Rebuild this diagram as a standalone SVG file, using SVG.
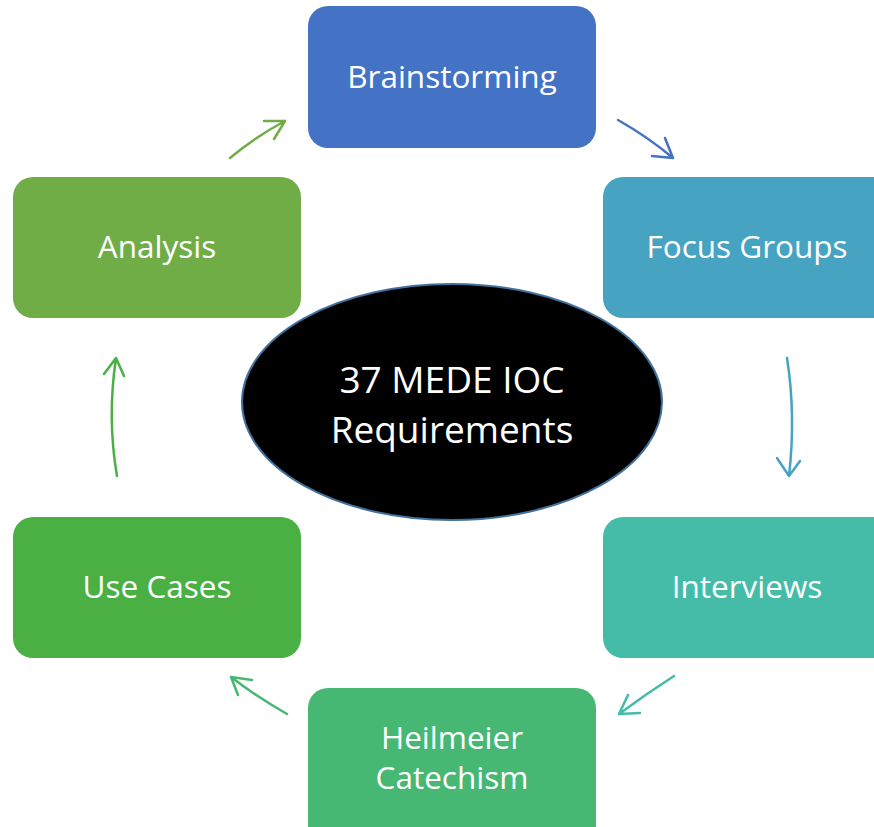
<svg xmlns="http://www.w3.org/2000/svg" width="874" height="827" viewBox="0 0 874 827">
  <style>
    .box text { fill: #ffffff; font-family: "Open Sans", Lato, sans-serif; font-size: 31.5px; text-anchor: middle; }
    .hub text { fill: #ffffff; font-family: "Open Sans", Lato, sans-serif; font-size: 37px; text-anchor: middle; }
    .conn path { fill: none; stroke-width: 2.5; stroke-linecap: round; stroke-linejoin: round; }
  </style>
  <rect width="874" height="827" fill="#ffffff"/>

  <g id="brainstorming" class="box">
    <rect x="308" y="6" width="288" height="142" rx="20" fill="#4472C4"/>
    <text x="452" y="88">Brainstorming</text>
  </g>
  <g id="focus-groups" class="box">
    <rect x="603" y="177" width="300" height="141" rx="20" fill="#46A4C2"/>
    <text x="747" y="258">Focus Groups</text>
  </g>
  <g id="interviews" class="box">
    <rect x="603" y="517" width="300" height="141" rx="20" fill="#45BCA8"/>
    <text x="747" y="598">Interviews</text>
  </g>
  <g id="heilmeier" class="box">
    <rect x="308" y="688" width="288" height="160" rx="20" fill="#47B874"/>
    <text x="452" y="749">Heilmeier</text>
    <text x="452" y="789">Catechism</text>
  </g>
  <g id="use-cases" class="box">
    <rect x="13" y="517" width="288" height="141" rx="20" fill="#4AB044"/>
    <text x="157" y="598">Use Cases</text>
  </g>
  <g id="analysis" class="box">
    <rect x="13" y="177" width="288" height="141" rx="20" fill="#70AD47"/>
    <text x="157" y="258">Analysis</text>
  </g>

  <g id="requirements" class="hub">
    <ellipse cx="452" cy="402" rx="210" ry="118" fill="#000000" stroke="#41719C" stroke-width="2"/>
    <text x="452" y="393">37 MEDE IOC</text>
    <text x="452" y="443">Requirements</text>
  </g>

  <g id="connectors" class="conn">
    <path d="M230 158 Q255 137 285 121 M264 121 L285 121 L274 139" stroke="#70AD47"/>
    <path d="M618 120 Q648 137 673 158 M665 138 L673 158 L652 156" stroke="#4472C4"/>
    <path d="M787 358 Q796 415 789 476 M777 458 L789 476 L800 461" stroke="#46A4C2"/>
    <path d="M674 676 Q646 694 619 714 M628 695 L619 714 L640 713" stroke="#45BCA8"/>
    <path d="M287 714 Q257 697 231 677 M252 680 L231 677 L238 695" stroke="#47B874"/>
    <path d="M117 476 Q107 418 116 358 M104 374 L116 358 L124 376" stroke="#4AB044"/>
  </g>
</svg>
